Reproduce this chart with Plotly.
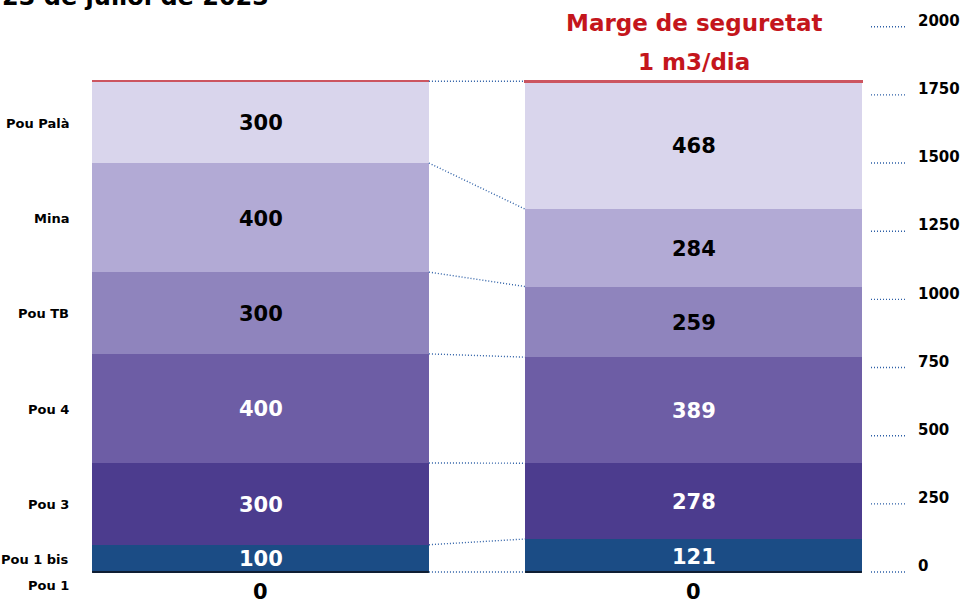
import plotly.graph_objects as go
import numpy as np

# ---- data ----
bars = ["Capacitat", "Consum"]
series_names = ["Pou 1", "Pou 1 bis", "Pou 3", "Pou 4", "Pou TB", "Mina", "Pou Palà"]
left_values = [0, 100, 300, 400, 300, 400, 300]
right_values = [0, 121, 278, 389, 259, 284, 468]
margin_name = "Marge de seguretat"
margin_values = [0, 1]
axis_ticks = [0, 250, 500, 750, 1000, 1250, 1500, 1750, 2000]
title_text = "23 de juliol de 2023"
margin_label_lines = ["Marge de seguretat", "1 m3/dia"]

# ---- styles ----
colors = ["#0f1e33", "#1b4c85", "#4c3c8e", "#6d5da5", "#8f84bd", "#b2aad5", "#d9d5ec"]
text_colors = ["black", "white", "white", "white", "black", "black", "black"]
red = "#c4161c"
dot_color = "#2d5fa6"
FONT = "DejaVu Sans"
positions = [0, 1]
width = 0.778


def f(size, color):
    return dict(family=FONT, size=size, color=color, weight="bold")


fig = go.Figure()
for i, name in enumerate(series_names):
    fig.add_trace(go.Bar(
        x=positions, y=[left_values[i], right_values[i]], width=width,
        name=name, marker=dict(color=colors[i], line=dict(width=0)),
        hoverinfo="skip", showlegend=False,
    ))
fig.add_trace(go.Bar(
    x=positions, y=margin_values, width=width, name=margin_name,
    marker=dict(color="#cc5560", line=dict(color="#cc5560", width=2)),
    hoverinfo="skip", showlegend=False,
))

# cumulative boundaries
cl = np.cumsum(left_values)
cr = np.cumsum(right_values)
tops = [(cl[-1] + margin_values[0], cr[-1] + margin_values[1])]
pairs = [(cl[i], cr[i]) for i in range(len(series_names) - 1)] + tops
for a, b in pairs:
    fig.add_trace(go.Scatter(
        x=[positions[0] + width / 2, positions[1] - width / 2], y=[a, b],
        mode="lines", line=dict(color=dot_color, width=1.4, dash="1px,2px"),
        hoverinfo="skip", showlegend=False,
    ))

annotations = []
# value labels
for j, vals in enumerate([left_values, right_values]):
    cum = np.cumsum(vals)
    for i, v in enumerate(vals):
        if v > 0:
            annotations.append(dict(
                x=positions[j], y=cum[i] - v / 2, text=str(v), showarrow=False,
                yshift=-1,
                font=f(21, text_colors[i]), xanchor="center", yanchor="middle"))
    # zero values below the bars (Pou 1)
    annotations.append(dict(
        x=positions[j], y=0, text=str(vals[0]), showarrow=False, yshift=-20,
        font=f(21, "black"), xanchor="center", yanchor="middle"))

# category labels on the left
for i, name in enumerate(series_names):
    v = left_values[i]
    annotations.append(dict(
        x=positions[0] - width / 2, y=cl[i] - v / 2, text=name, showarrow=False,
        xshift=-21, yshift=-13 if v == 0 else -1,
        font=f(13, "black"), xanchor="right", yanchor="middle"))

# safety margin label (two lines)
top_right = cr[-1] + margin_values[1]
for k, (line, shift) in enumerate(zip(margin_label_lines, [58, 19])):
    annotations.append(dict(
        x=positions[1], y=top_right, text=line, showarrow=False,
        yshift=shift, font=f(23, red), xanchor="center", yanchor="middle"))

# title (cut at top)
annotations.append(dict(
    xref="paper", yref="paper", x=0, y=1 + 2.5 / 604, text=title_text,
    showarrow=False, xanchor="left", yanchor="middle", font=f(24, "black")))

shapes = []
# baseline under bars
for p in positions:
    shapes.append(dict(type="line", x0=p - width / 2, x1=p + width / 2, y0=0, y1=0,
                       line=dict(color="#0f1e33", width=2)))
# dotted leaders for the right axis ticks
for t in axis_ticks:
    shapes.append(dict(type="line", xref="paper", x0=1 - 36 / 907, x1=1, y0=t, y1=t,
                       line=dict(color=dot_color, width=1.4, dash="1px,2px")))

px_per_unit = 545.3 / 2000
zero_px = 572
fig.update_layout(
    width=963, height=604,
    margin=dict(l=0, r=56, t=0, b=0),
    paper_bgcolor="white", plot_bgcolor="white",
    barmode="stack", bargap=0,
    annotations=annotations, shapes=shapes,
    xaxis=dict(range=[-260.5 / 433, (907 - 260.5) / 433], visible=False, fixedrange=True),
    yaxis=dict(
        range=[-(604 - zero_px) / px_per_unit, zero_px / px_per_unit],
        side="right", tickvals=axis_ticks, ticktext=[str(t) for t in axis_ticks],
        showgrid=False, zeroline=False, showline=False, ticks="",
        tickfont=f(15, "black"),
        ticklabelstandoff=10, ticklabelshift=-6, automargin=False, fixedrange=True,
    ),
)
fig.write_html(
    "out.html",
    config={"displayModeBar": False},
    post_script="document.body.style.margin='0';document.body.style.overflow='hidden';",
)
